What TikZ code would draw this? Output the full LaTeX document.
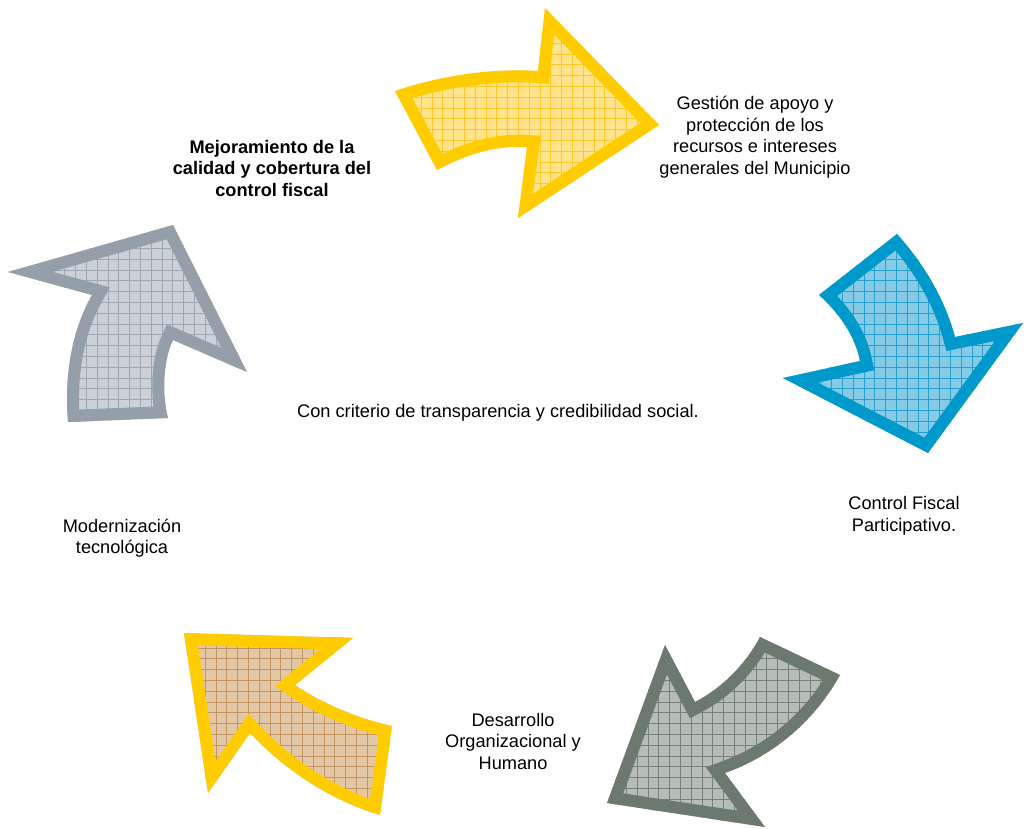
\documentclass[tikz,border=0pt]{standalone}
\usepackage{fontspec}
\setmainfont{Liberation Sans}
\definecolor{ybord}{RGB}{255,204,0}
\definecolor{yfill}{RGB}{255,228,140}
\definecolor{ygrid}{RGB}{255,200,40}
\definecolor{bbord}{RGB}{0,153,204}
\definecolor{bfill}{RGB}{134,203,229}
\definecolor{bgrid}{RGB}{40,160,206}
\definecolor{dbord}{RGB}{108,121,111}
\definecolor{dfill}{RGB}{182,189,184}
\definecolor{dgrid}{RGB}{118,130,121}
\definecolor{tfill}{RGB}{228,199,164}
\definecolor{tgrid}{RGB}{196,150,100}
\definecolor{lbord}{RGB}{148,159,170}
\definecolor{lfill}{RGB}{204,209,216}
\definecolor{lgrid}{RGB}{158,168,178}
\newcommand{\gridarrow}[4]{%
  \begin{scope}
    \clip #1;
    \fill[#2] #1;
    \draw[#3, line width=0.8pt, step=10.8pt] (0pt,0pt) grid (1024pt,-828pt);
    \draw[#4, line width=24pt, line join=miter] #1;
  \end{scope}}
\tikzset{lbl/.style={align=center, font=\fontsize{18.2}{21.5}\selectfont, text=black, inner sep=0pt}}
\begin{document}
\begin{tikzpicture}[x=1pt,y=-1pt]
\useasboundingbox (0,0) rectangle (1024,828);
\fill[white] (0,0) rectangle (1024,828);
% yellow top arrow
\gridarrow{(395,91) .. controls (440,76) and (490,68) .. (538,71) -- (545,8) -- (659,125) -- (518,218) -- (527,147) .. controls (495,145) and (465,155) .. (437,170) -- cycle}{yfill}{ygrid}{ybord}
% blue arrow
\gridarrow{(897,234) -- (819,295) .. controls (838,312) and (855,335) .. (860,361) -- (783,378) -- (928,453) -- (1023,323) -- (955,337) .. controls (945,300) and (925,265) .. (897,234) -- cycle}{bfill}{bgrid}{bbord}
% dark gray arrow
\gridarrow{(665,645) -- (695,702) .. controls (722,688) and (745,665) .. (760,637) -- (840,675) .. controls (815,720) and (775,755) .. (725,773) -- (765,827) -- (607,803) -- cycle}{dfill}{dgrid}{dbord}
% brown arrow
\gridarrow{(184,633) -- (353,638) -- (295,685) .. controls (322,703) and (355,718) .. (392,726) -- (380,815) .. controls (330,800) and (285,770) .. (250,733) -- (208,793) -- cycle}{tfill}{tgrid}{ybord}
% light gray arrow
\gridarrow{(8,272) -- (173,225) -- (247,372) -- (173,340) .. controls (163,360) and (162,395) .. (168,418) -- (68,422) .. controls (64,375) and (72,330) .. (92,295) -- cycle}{lfill}{lgrid}{lbord}
% labels
\node[lbl, font=\fontsize{18.2}{21.5}\selectfont\bfseries] (mej) at (272,168) {Mejoramiento de la\\calidad y cobertura del\\control fiscal};
\node[lbl] (ges) at (755,137) {Gestión de apoyo y\\protección de los\\recursos e intereses\\generales del Municipio};
\node[lbl] (con) at (498,413) {Con criterio de transparencia y credibilidad social.};
\node[lbl] (cfp) at (904,516) {Control Fiscal\\Participativo.};
\node[lbl] (mod) at (122,538) {Modernización\\tecnológica};
\node[lbl] (des) at (513,741) {Desarrollo\\Organizacional y\\Humano};
\end{tikzpicture}
\end{document}
